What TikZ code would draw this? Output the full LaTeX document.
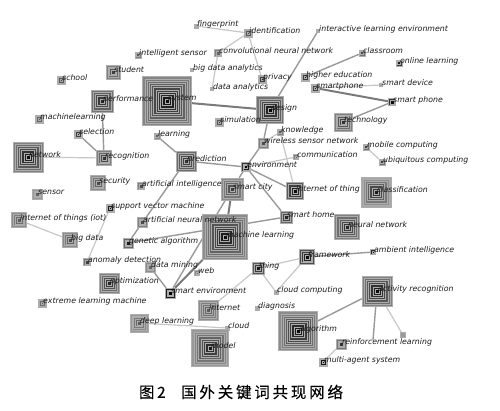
\documentclass[tikz,border=0pt]{standalone}
\usepackage{fontspec}
\setmainfont{DejaVu Sans}
\newfontfamily\cjk[LetterSpace=18,FakeBold=0.3]{Noto Sans CJK SC}
\pgfdeclarelayer{edges}
\pgfdeclarelayer{labels}
\pgfsetlayers{edges,main,labels}
% keyword box: name, x, y, size, outer shade, inner shade, label
\newcommand{\kw}[7]{%
  \pgfmathtruncatemacro\nr{max(1,round(#4/5))}%
  \foreach \k in {0,...,\nr}{%
    \pgfmathsetmacro\sz{#4*(1-\k/(\nr+1))}%
    \pgfmathtruncatemacro\sh{#5+(#6-#5)*\k/\nr}%
    \node[ring, minimum size=\sz pt, fill=black!\sh] (#1-\k) at (#2,#3) {};
  }%
  \node[hold, minimum size=#4 pt] (#1) at (#2,#3) {};
  \begin{pgfonlayer}{labels}
    \node[lbl] (#1-txt) at (#2+1,#3-2) {#7};
  \end{pgfonlayer}
}
\begin{document}
\begin{tikzpicture}[x=1pt, y=-1pt,
    ring/.style={rectangle, inner sep=0pt, draw=black!32, line width=0.3pt},
    hold/.style={rectangle, inner sep=0pt},
    lbl/.style={anchor=west, inner sep=0pt, font=\fontsize{7.8}{9}\selectfont\itshape, text=black!90},
    lk/.style={draw=black!22, line width=1.2pt},
    mk/.style={draw=black!40, line width=1.4pt},
    hk/.style={draw=black!52, line width=2pt}
  ]
  \useasboundingbox (0,0) rectangle (500,411);

  % top
  \kw{fing}{196}{26}{4}{25}{35}{fingerprint}
  \kw{ident}{248}{33}{8}{55}{75}{identification}
  \kw{isens}{138}{55}{6}{50}{65}{intelligent sensor}
  \kw{cnn}{218}{53}{7}{50}{60}{convolutional neural network}
  \kw{bda}{192}{70}{3}{25}{35}{big data analytics}
  \kw{da}{212}{89}{3}{25}{35}{data analytics}
  \kw{priv}{262}{79}{8}{65}{90}{privacy}
  \kw{hedu}{305}{77}{8}{65}{90}{higher education}
  \kw{sphone}{315}{88}{8}{60}{85}{smartphone}
  \kw{ile}{318}{31}{3}{25}{35}{interactive learning environment}
  \kw{class}{362}{53}{6}{55}{70}{classroom}
  \kw{onl}{399}{63}{6}{75}{90}{online learning}
  \kw{sdev}{381}{85}{3}{30}{40}{smart device}
  \kw{sph}{392}{102}{7}{80}{95}{smart phone}
  \kw{school}{61}{80}{8}{55}{80}{school}
  \kw{stud}{113}{72}{14}{50}{75}{student}
  \kw{perf}{102}{101}{22}{55}{85}{performance}
  \kw{sys}{167}{101}{49}{48}{96}{system}
  \kw{mlr}{39}{119}{8}{50}{70}{machinelearning}
  \kw{design}{270}{110}{27}{55}{96}{design}
  \kw{sim}{219}{122}{8}{55}{80}{simulation}
  \kw{tech}{343}{122}{18}{50}{80}{technology}

  % middle
  \kw{sel}{78}{134}{8}{60}{90}{selection}
  \kw{learn}{157}{136}{6}{45}{60}{learning}
  \kw{know}{280}{132}{6}{50}{65}{knowledge}
  \kw{wsn}{263}{143}{10}{50}{70}{wireless sensor network}
  \kw{net}{28}{157}{30}{50}{95}{network}
  \kw{recog}{104}{158}{15}{50}{80}{recognition}
  \kw{pred}{186}{161}{20}{58}{80}{prediction}
  \kw{env}{246}{167}{9}{80}{98}{environment}
  \kw{comm}{296}{157}{5}{50}{60}{communication}
  \kw{mob}{366}{147}{6}{55}{75}{mobile computing}
  \kw{ubi}{382}{162}{6}{55}{75}{ubiquitous computing}
  \kw{sec}{98}{183}{15}{45}{70}{security}
  \kw{sens}{37}{194}{10}{40}{60}{sensor}
  \kw{ai}{141}{186}{7}{50}{70}{artificial intelligence}
  \kw{scity}{232}{189}{22}{45}{75}{smart city}
  \kw{iott}{295}{191}{17}{65}{95}{internet of thing}
  \kw{clf}{376}{192}{30}{35}{90}{classification}
  \kw{svm}{110}{208}{8}{80}{98}{support vector machine}
  \kw{shome}{286}{217}{12}{60}{85}{smart home}
  \kw{iot}{19}{220}{15}{45}{65}{internet of things (iot)}
  \kw{ann}{142}{222}{10}{50}{70}{artificial neural network}
  \kw{nn}{347}{227}{25}{50}{85}{neural network}
  \kw{ml}{225}{237}{45}{45}{95}{machine learning}
  \kw{bigd}{70}{240}{15}{45}{70}{big data}
  \kw{ga}{128}{243}{10}{60}{90}{genetic algorithm}

  % bottom
  \kw{frame}{307}{257}{15}{70}{95}{framework}
  \kw{amb}{373}{252}{5}{85}{98}{ambient intelligence}
  \kw{anom}{87}{262}{7}{55}{75}{anomaly detection}
  \kw{dmin}{150}{267}{10}{45}{60}{data mining}
  \kw{thing}{258}{268}{12}{65}{90}{thing}
  \kw{web}{197}{273}{5}{45}{55}{web}
  \kw{opt}{109}{283}{20}{50}{85}{optimization}
  \kw{senv}{170}{293}{10}{90}{100}{smart environment}
  \kw{ccomp}{276}{292}{4}{45}{55}{cloud computing}
  \kw{act}{377}{291}{30}{50}{95}{activity recognition}
  \kw{elm}{42}{303}{8}{50}{65}{extreme learning machine}
  \kw{diag}{257}{308}{4}{30}{40}{diagnosis}
  \kw{inet}{208}{310}{20}{45}{65}{internet}
  \kw{deep}{139}{323}{18}{40}{65}{deep learning}
  \kw{cloud}{227}{328}{4}{30}{40}{cloud}
  \kw{algo}{298}{331}{39}{45}{96}{algorithm}
  \kw{rl}{341}{344}{10}{55}{80}{reinforcement learning}
  \kw{model}{210}{348}{37}{40}{90}{model}
  \kw{mas}{323}{362}{8}{85}{98}{multi-agent system}
  \node[ring, minimum size=5pt, fill=black!40] (dot) at (403,335) {};
  \coordinate (rlend) at (373,340);

  % links
  \begin{pgfonlayer}{edges}
    \draw[hk] (sys) -- (design);
    \draw[lk] (fing) -- (ident);
    \draw[lk] (ident) -- (cnn);
    \draw[lk] (cnn) -- (da);
    \draw[lk] (ident) -- (priv);
    \draw[mk] (design) -- (ile);
    \draw[mk] (hedu) -- (class);
    \draw[lk] (sphone) -- (sdev);
    \draw[hk] (sphone) -- (sph);
    \draw[mk] (sph) -- (tech);
    \draw[mk] (perf) -- (recog);
    \draw[mk] (sel) -- (recog);
    \draw[lk] (net) -- (recog);
    \draw[mk] (learn) -- (pred);
    \draw[mk] (pred) -- (env);
    \draw[mk] (pred) -- (ga);
    \draw[mk] (design) -- (wsn);
    \draw[mk] (wsn) -- (env);
    \draw[lk] (wsn) -- (know);
    \draw[lk] (know) -- (iott);
    \draw[lk] (env) -- (comm);
    \draw[mk] (env) -- (scity);
    \draw[mk] (env) -- (shome);
    \draw[mk] (env) -- (iott);
    \draw[hk] (scity) -- (ml);
    \draw[mk] (scity) -- (senv);
    \draw[hk] (ml) -- (senv);
    \draw[mk] (dmin) -- (senv);
    \draw[mk] (ga) -- (shome);
    \draw[lk] (iot) -- (bigd);
    \draw[lk] (anom) -- (svm);
    \draw[lk] (mob) -- (ubi);
    \draw[lk] (inet) -- (thing);
    \draw[lk] (thing) -- (frame);
    \draw[lk] (thing) -- (ccomp);
    \draw[lk] (frame) -- (ccomp);
    \draw[mk] (frame) -- (amb);
    \draw[mk] (algo) -- (act);
    \draw[mk] (act) -- (rlend);
    \draw[lk] (act) -- (dot);
    \draw[lk] (rl) -- (mas);
    \draw[lk] (deep) -- (cloud);
  \end{pgfonlayer}

  % caption
  \node[font=\cjk\fontsize{15.5}{18}\selectfont] (cap) at (241,392) {图\,2\quad 国外关键词共现网络};
\end{tikzpicture}
\end{document}
